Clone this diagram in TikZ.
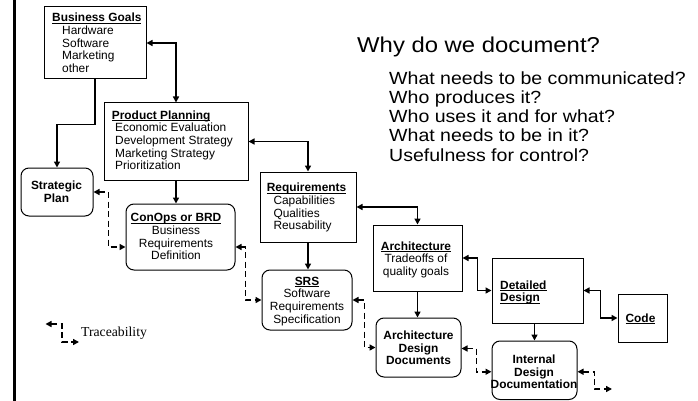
\documentclass[tikz,border=0pt]{standalone}
\usepackage{graphicx}
\usepackage{fontspec}
\setmainfont{Liberation Sans}
\newfontfamily\legendfont{Liberation Serif}
\usetikzlibrary{arrows.meta}

% underlined text with a rule at a fixed depth below the baseline
\newsavebox\ulsave
\newcommand\ulbox[1]{\sbox\ulsave{#1}\rlap{\rule[-2pt]{\wd\ulsave}{0.8pt}}\usebox\ulsave}
% slightly widened lettering for the question list
\newcommand\widetext[1]{\scalebox{1.11}[1]{#1}}

\begin{document}
\begin{tikzpicture}[x=1pt,y=-1pt,
  >={Triangle[length=6pt,width=6pt]},
  sqbox/.style={draw=black, line width=1pt, inner sep=0pt},
  rbox/.style={sqbox, rounded corners=8pt},
  boxtext/.style={inner sep=0pt, font=\fontsize{11.9}{12.7}\selectfont},
  question/.style={anchor=base west, inner sep=0pt, font=\fontsize{17.6}{19}\selectfont},
  link/.style={line width=1.8pt},
  trace/.style={line width=1.6pt, dash pattern=on 6pt off 3.5pt, <->}]

\useasboundingbox (0,0) rectangle (698,401);

% left margin rule
\draw[line width=2.5pt] (14.7,0) -- (14.7,401);

% ---- boxes ----
\node[sqbox, minimum width=102pt, minimum height=72pt] (bg) at (95,43) {};
\node[boxtext, anchor=north west, align=left] (bgtext) at (52,12.8)
  {\textbf{\ulbox{Business Goals}}\\\hspace*{10pt}Hardware\\\hspace*{10pt}Software\\\hspace*{10pt}Marketing\\\hspace*{10pt}other};

\node[sqbox, minimum width=144pt, minimum height=77pt] (pp) at (176,141.5) {};
\node[boxtext, anchor=north west, align=left] (pptext) at (111.7,110.3)
  {\textbf{\ulbox{Product Planning}}\\\hspace*{3.3pt}Economic Evaluation\\\hspace*{3.3pt}Development Strategy\\\hspace*{3.3pt}Marketing Strategy\\\hspace*{3.3pt}Prioritization};

\node[sqbox, minimum width=96pt, minimum height=70pt] (req) at (308,207) {};
\node[boxtext, anchor=north west, align=left] (reqtext) at (266.7,182.8)
  {\textbf{\ulbox{Requirements}}\\\hspace*{6.6pt}Capabilities\\\hspace*{6.6pt}Qualities\\\hspace*{6.6pt}Reusability};

\node[sqbox, minimum width=89pt, minimum height=66pt] (arch) at (417.5,258) {};
\node[boxtext, anchor=north, align=center] (archtext) at (416,241.3)
  {\textbf{\ulbox{Architecture}}\\Tradeoffs of\\quality goals};

\node[sqbox, minimum width=91pt, minimum height=65pt] (dd) at (537.5,290.5) {};
\node[boxtext, anchor=north west, align=left] (ddtext) at (500,280.3)
  {\textbf{\ulbox{Detailed}}\\\textbf{\ulbox{Design}}};

\node[sqbox, minimum width=49pt, minimum height=48pt] (code) at (642.5,318) {};
\node[boxtext, anchor=base] (codetext) at (640.5,322) {\textbf{\ulbox{Code}}};

\node[rbox, minimum width=72pt, minimum height=48pt] (sp) at (57,192) {};
\node[boxtext, anchor=center, align=center, font=\fontsize{11.9}{12.7}\selectfont\bfseries] (sptext) at (56.5,192)
  {Strategic\\Plan};

\node[rbox, minimum width=109pt, minimum height=66pt] (co) at (180.5,237) {};
\node[boxtext, anchor=north, align=center] (cotext) at (176,213.3)
  {\textbf{\ulbox{ConOps or BRD}}\\Business\\Requirements\\Definition};

\node[rbox, minimum width=90pt, minimum height=60pt] (srs) at (307,300) {};
\node[boxtext, anchor=north, align=center] (srstext) at (307,276.5)
  {\textbf{\ulbox{SRS}}\\Software\\Requirements\\Specification};

\node[rbox, minimum width=85pt, minimum height=59pt] (add) at (418.5,347.5) {};
\node[boxtext, anchor=north, align=center, font=\fontsize{11.9}{12.7}\selectfont\bfseries] (addtext) at (418.5,330.5)
  {Architecture\\Design\\Documents};

\node[rbox, minimum width=85pt, minimum height=58.5pt] (idd) at (534.5,370.25) {};
\node[boxtext, anchor=north, align=center, font=\fontsize{11.9}{12.2}\selectfont\bfseries] (iddtext) at (534,355)
  {Internal\\Design\\Documentation};

% ---- solid connectors ----
\draw[link,<->] (bg.east) -| (pp.north);
\draw[link,->] (bg.south) -- ++(0,45) -| (sp.north);
\draw[link,<->] (pp.east) -| (req.north);
\draw[link,->] (pp.south) -- (pp.south |- co.north);
\draw[link,<->] (req.east) -| (arch.north);
\draw[link,->] (req.south) -- (req.south |- srs.north);
\draw[link,<->] (arch.east) -- ++(15,0) |- (dd.west);
\draw[link,->] (arch.south) -- (arch.south |- add.north);
\draw[link,<->] (dd.east) -- ++(17,0) |- (code.west);
\draw[link,->] (idd.north |- dd.south) -- (idd.north);

% ---- traceability links ----
\coordinate (traceend) at (612,389);
\draw[trace] (sp.east) -- ++(15,0) |- ([yshift=-10pt]co.west);
\draw[trace] ([yshift=-10pt]co.east) -- ++(10,0) |- (srs.west);
\draw[trace] (srs.east) -- ++(12,0) |- (add.west);
\draw[trace] ([yshift=-1pt]add.east) -- ++(15,0) |- ([yshift=-1.5pt]idd.west);
\draw[trace] ([yshift=-1.5pt]idd.east) -- ++(17,0) |- (traceend);

% ---- legend ----
\coordinate (lgstart) at (45.5,324);
\coordinate (lgend) at (79,342);
\draw[trace] (lgstart) -- ++(16.5,0) |- (lgend);
\node[anchor=base west, inner sep=0pt, font=\legendfont\fontsize{13.7}{16}\selectfont] (lglabel) at (81,336) {Traceability};

% ---- questions ----
\node[anchor=base west, inner sep=0pt, font=\fontsize{21.5}{26}\selectfont] (why) at (357,52.8) {\widetext{Why do we document?}};
\node[question] (q1) at (389,84.4) {\widetext{What needs to be communicated?}};
\node[question] (q2) at (389,103.6) {\widetext{Who produces it?}};
\node[question] (q3) at (389,122.8) {\widetext{Who uses it and for what?}};
\node[question] (q4) at (389,142.0) {\widetext{What needs to be in it?}};
\node[question] (q5) at (389,161.2) {\widetext{Usefulness for control?}};

\end{tikzpicture}
\end{document}
